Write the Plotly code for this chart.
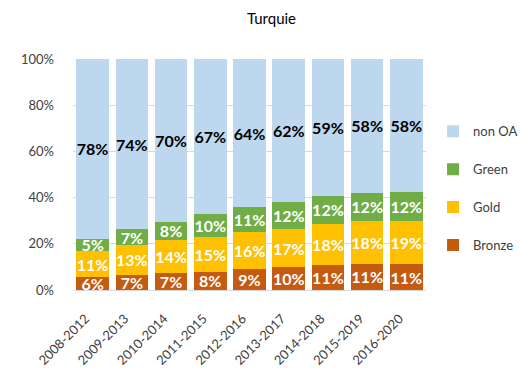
import plotly.graph_objects as go

periods = ["2008-2012", "2009-2013", "2010-2014", "2011-2015", "2012-2016",
           "2013-2017", "2014-2018", "2015-2019", "2016-2020"]

# shares in %
bronze = [5.6, 6.6, 7.2, 7.9, 9.1, 9.8, 10.8, 11.4, 11.2]
gold = [11.2, 12.9, 14.4, 15.0, 15.9, 16.6, 17.9, 18.4, 18.8]
green = [5.4, 6.7, 8.0, 9.9, 10.9, 11.8, 12.1, 12.4, 12.3]
non_oa = [77.8, 73.8, 70.4, 67.2, 64.1, 61.8, 59.2, 57.8, 57.7]

series = [
    ("Bronze", bronze, "#C55A11", "white"),
    ("Gold", gold, "#FFC000", "white"),
    ("Green", green, "#70AD47", "white"),
    ("non OA", non_oa, "#BDD7EE", "black"),
]

font = "Lato, 'Open Sans', sans-serif"

fig = go.Figure()
for i, (name, vals, color, tcolor) in enumerate(series):
    fig.add_trace(go.Bar(
        x=periods,
        y=[v / 100 for v in vals],
        name=name,
        legendgroup=name,
        legendrank=len(series) - i,
        marker=dict(color=color, line=dict(width=0)),
        texttemplate="<b>%{y:.0%}</b>",
        textposition="inside",
        insidetextanchor="middle",
        constraintext="none",
        textangle=0,
        textfont=dict(color=tcolor, size=16, family=font),
    ))

# page body adds an 8px offset, margins below compensate for it
fig.update_layout(
    barmode="stack",
    bargap=0.17,
    width=527,
    height=369,
    margin=dict(l=65, r=103, t=51, b=87),
    plot_bgcolor="white",
    paper_bgcolor="white",
    font=dict(family=font, color="#404040", size=13),
    title=dict(text="Turquie", x=0.5, xanchor="center", y=0.985,
               font=dict(size=15, color="black", family=font, weight=400)),
    legend=dict(
        traceorder="grouped",
        tracegroupgap=18,
        x=1.02, xanchor="left", y=0.752, yanchor="top",
        font=dict(size=13, color="#404040", family=font),
        itemwidth=30,
    ),
    xaxis=dict(tickangle=-45, tickfont=dict(size=13, color="#404040"),
               showline=True, linecolor="#D9D9D9", ticks="", automargin=False,
               ticklabelstandoff=15, ticklabelshift=-7),
    yaxis=dict(range=[0, 1], tickformat=".0%", dtick=0.2,
               gridcolor="#D9D9D9", zeroline=False, automargin=False,
               ticklabelstandoff=18,
               tickfont=dict(size=13, color="#404040")),
)

fig.write_html("out.html")
